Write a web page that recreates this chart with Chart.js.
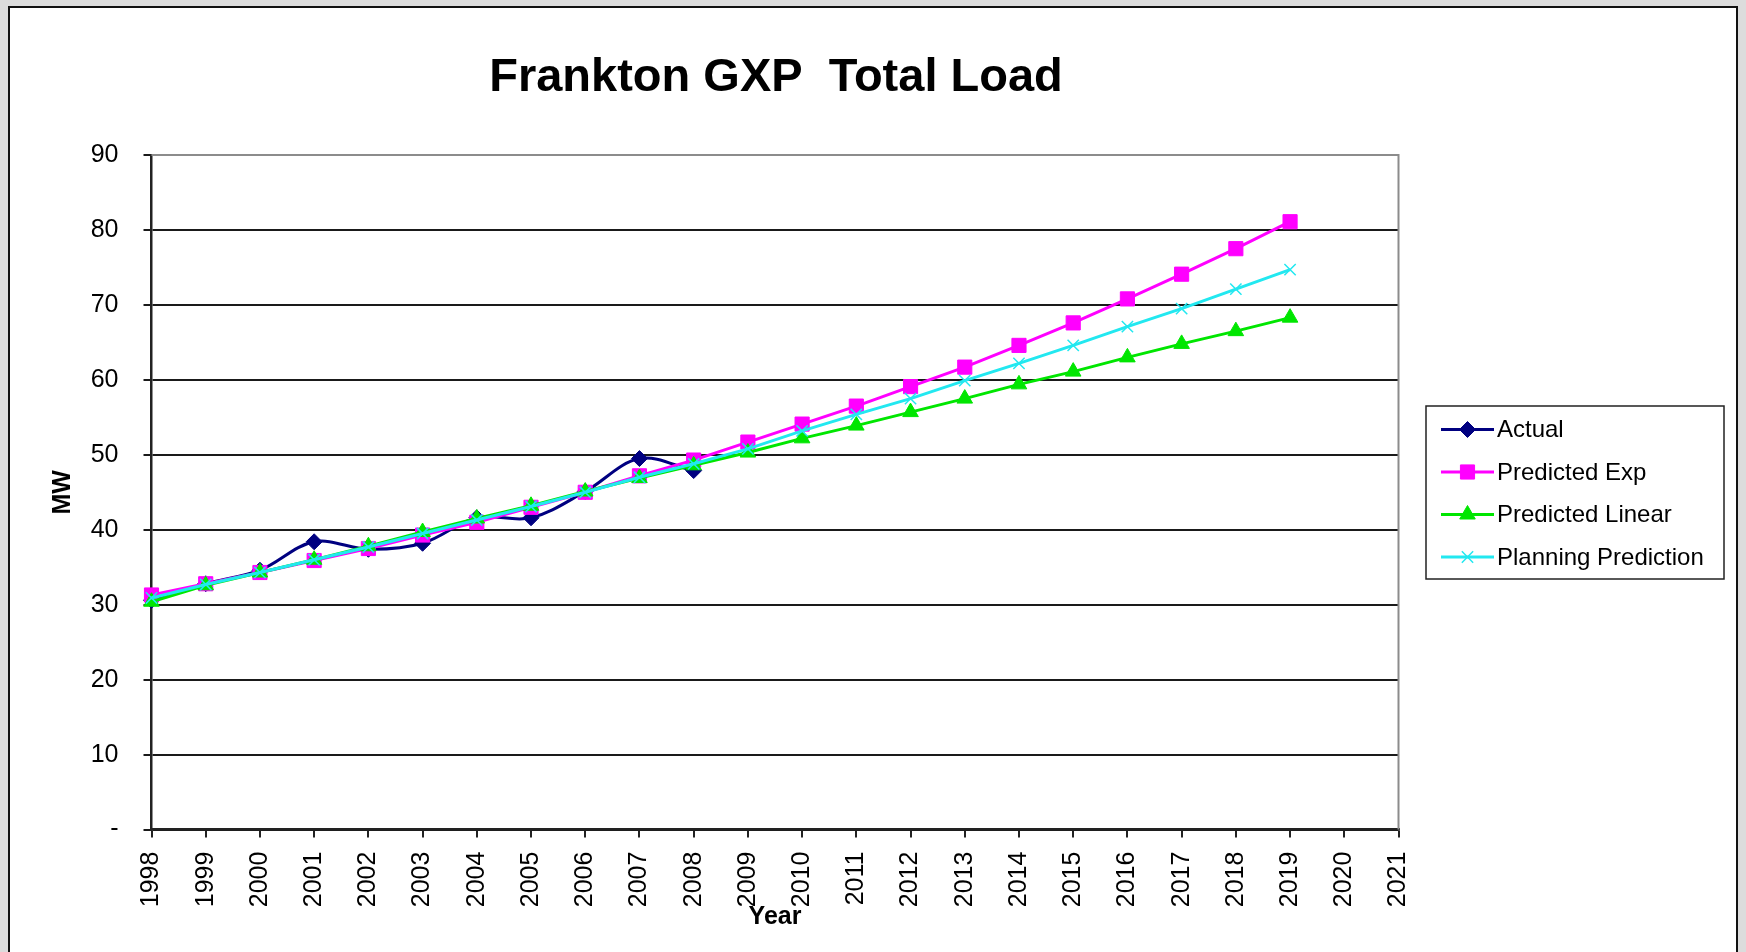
<!DOCTYPE html>
<html>
<head>
<meta charset="utf-8">
<title>Frankton GXP Total Load</title>
<script src="https://cdn.jsdelivr.net/npm/chart.js@4.4.1/dist/chart.umd.min.js"></script>
<style>
  html, body { margin: 0; padding: 0; background: #dcdcdc; overflow: hidden; }
  #frame { position: absolute; left: 8px; top: 6px; width: 1726px; height: 980px; background: #fff; border: 2px solid #111; }
  #wrap { position: absolute; left: 0; top: 0; width: 1746px; height: 952px; }
</style>
</head>
<body>
<div id="frame"></div>
<div id="wrap"><canvas id="chart"></canvas></div>
<script>
const years = ['1998', '1999', '2000', '2001', '2002', '2003', '2004', '2005', '2006', '2007', '2008', '2009',
  '2010', '2011', '2012', '2013', '2014', '2015', '2016', '2017', '2018', '2019', '2020', '2021'];

const actual = [30.6, 32.8, 34.6, 38.4, 37.4, 38.2, 41.6, 41.6, 45.1, 49.5, 47.9];
const predictedExp = [31.3, 32.8, 34.3, 35.9, 37.5, 39.3, 41.0, 43.0, 45.0, 47.2, 49.3, 51.7,
  54.1, 56.5, 59.1, 61.7, 64.6, 67.6, 70.8, 74.1, 77.5, 81.1];
const predictedLinear = [30.4, 32.6, 34.3, 36.0, 37.8, 39.7, 41.5, 43.2, 45.1, 46.9, 48.6, 50.3,
  52.2, 53.9, 55.7, 57.5, 59.4, 61.1, 63.0, 64.8, 66.5, 68.3];
const planningPrediction = [30.9, 32.7, 34.3, 36.0, 37.7, 39.5, 41.3, 43.1, 45.0, 47.0, 48.8, 50.8,
  53.2, 55.4, 57.5, 59.9, 62.2, 64.6, 67.1, 69.5, 72.1, 74.7];

const FONT = '"Liberation Sans", Arial, sans-serif';
Chart.defaults.font.family = FONT;
Chart.defaults.color = '#000';

const series = [
  { label: 'Actual', data: actual, color: '#000080', style: 'rectRot', radius: 8, tension: 0.35, order: 4 },
  { label: 'Predicted Exp', data: predictedExp, color: '#ff00ff', style: 'rect', radius: 10, tension: 0, order: 3 },
  { label: 'Predicted Linear', data: predictedLinear, color: '#00e600', style: 'triangle', radius: 9, tension: 0, order: 2 },
  { label: 'Planning Prediction', data: planningPrediction, color: '#22e8f0', style: 'crossRot', radius: 8, tension: 0, order: 1 },
];

// title, plot border and boxed legend drawn by hand (Excel look)
const excelBits = {
  id: 'excelBits',
  beforeDatasetsDraw(chart) {
    const { ctx, chartArea: a } = chart;
    ctx.save();
    ctx.strokeStyle = '#8c8c8c';
    ctx.lineWidth = 2;
    ctx.beginPath();
    ctx.moveTo(a.left, a.top);
    ctx.lineTo(a.right, a.top);
    ctx.lineTo(a.right, a.bottom);
    ctx.stroke();
    ctx.restore();
  },
  afterDraw(chart) {
    const { ctx, chartArea: a } = chart;
    ctx.save();
    ctx.fillStyle = '#000';
    ctx.font = 'bold 47px ' + FONT;
    ctx.textAlign = 'center';
    ctx.textBaseline = 'alphabetic';
    ctx.fillText('Frankton GXP  Total Load', (a.left + a.right) / 2 + 1, 91);

    // legend box
    const box = { x: 1426, y: 406, w: 298, h: 173 };
    ctx.strokeStyle = '#222';
    ctx.lineWidth = 1.5;
    ctx.strokeRect(box.x, box.y, box.w, box.h);

    ctx.font = '24px ' + FONT;
    ctx.textAlign = 'left';
    ctx.textBaseline = 'middle';
    series.forEach((s, i) => {
      const y = 429.5 + i * 42.5;
      ctx.strokeStyle = s.color;
      ctx.fillStyle = s.color;
      ctx.lineWidth = 3;
      ctx.beginPath();
      ctx.moveTo(1441, y);
      ctx.lineTo(1494, y);
      ctx.stroke();
      ctx.lineWidth = s.style === 'crossRot' ? 1.5 : 1;
      Chart.helpers.drawPoint(ctx, { pointStyle: s.style, radius: s.radius, rotation: 0, borderWidth: ctx.lineWidth }, 1467.5, y);
      ctx.fillStyle = '#000';
      ctx.fillText(s.label, 1497, y + 1);
    });
    ctx.restore();
  }
};

new Chart(document.getElementById('chart'), {
  type: 'line',
  data: {
    labels: years,
    datasets: series.map(s => ({
      label: s.label,
      data: s.data,
      order: s.order,
      borderColor: s.color,
      backgroundColor: s.color,
      borderWidth: 3,
      tension: s.tension,
      pointStyle: s.style,
      pointRadius: s.radius,
      pointBorderWidth: s.style === 'crossRot' ? 1.5 : 1,
      pointBorderColor: s.color,
      pointBackgroundColor: s.color,
      fill: false
    }))
  },
  options: {
    responsive: true,
    maintainAspectRatio: false,
    animation: false,
    layout: { padding: { left: 0, top: 155, right: 347.5, bottom: 0 } },
    plugins: {
      legend: { display: false },
      title: { display: false },
      tooltip: { enabled: false }
    },
    scales: {
      x: {
        offset: false,
        afterFit: scale => { scale.height = 952 - 829.6; },
        border: { display: true, color: '#222', width: 2.5 },
        grid: { display: true, drawOnChartArea: false, drawTicks: true, tickLength: 8, color: '#222', lineWidth: 2 },
        ticks: { autoSkip: false, maxRotation: 90, minRotation: 90, padding: 14, font: { size: 25 }, color: '#000' },
        title: { display: true, text: 'Year', font: { size: 25, weight: 'bold' }, padding: { top: 0, bottom: 20 } }
      },
      y: {
        min: 0,
        max: 90,
        afterFit: scale => { scale.width = 151.5; },
        border: { display: true, color: '#222', width: 2.5 },
        grid: { color: '#1a1a1a', lineWidth: 2, tickLength: 8 },
        ticks: {
          stepSize: 10,
          padding: 25,
          font: { size: 25 },
          color: '#000',
          callback: v => (v === 0 ? '-' : v)
        },
        title: { display: true, text: 'MW', font: { size: 25, weight: 'bold' }, padding: { top: 48, bottom: 0 } }
      }
    }
  },
  plugins: [excelBits]
});
</script>
</body>
</html>
